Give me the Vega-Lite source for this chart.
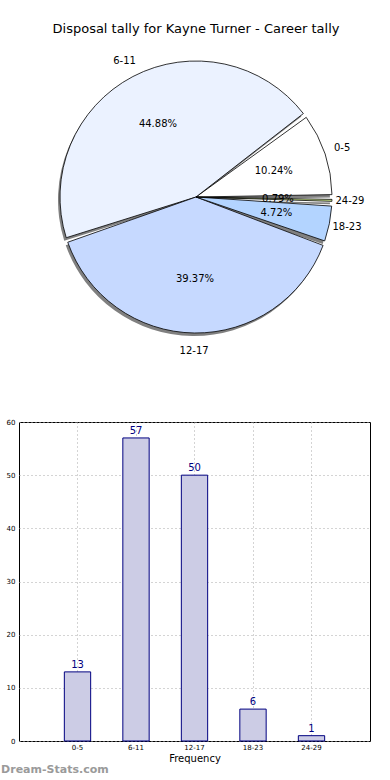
{
  "$schema": "https://vega.github.io/schema/vega-lite/v6.json",
  "padding": {"top": 23, "left": 0, "right": 0, "bottom": 0},
  "spacing": 61,
  "config": {
    "font": "DejaVu Sans",
    "axis": {"domainColor": "black", "tickColor": "black", "labelColor": "black", "titleColor": "black", "titleFontWeight": "normal"}
  },
  "datasets": {
    "d": [
      {"bin": "0-5", "n": 13, "pct": "10.24%", "idx": 0},
      {"bin": "6-11", "n": 57, "pct": "44.88%", "idx": 1},
      {"bin": "12-17", "n": 50, "pct": "39.37%", "idx": 2},
      {"bin": "18-23", "n": 6, "pct": "4.72%", "idx": 3},
      {"bin": "24-29", "n": 1, "pct": "0.79%", "idx": 4}
    ]
  },
  "vconcat": [
    {
      "width": 354,
      "height": 302,
      "data": {"name": "d"},
      "view": {"stroke": null},
      "title": {"text": "Disposal tally for Kayne Turner - Career tally", "fontSize": 13, "fontWeight": "normal", "font": "DejaVu Sans", "anchor": "middle", "offset": 10},
      "encoding": {
        "theta": {"field": "n", "type": "quantitative", "stack": true, "scale": {"range": [1.5708, 7.854]}},
        "order": {"field": "idx", "type": "quantitative", "sort": "descending"}
      },
      "layer": [
        {"mark": {"type": "arc", "outerRadius": 136, "fill": "#808080", "xOffset": -2, "yOffset": 3, "padAngle": 0.035}},
        {
          "mark": {"type": "arc", "outerRadius": 136, "stroke": "black", "strokeWidth": 0.8, "padAngle": 0.035},
          "encoding": {
            "color": {"field": "bin", "type": "nominal", "legend": null,
              "scale": {"domain": ["0-5", "6-11", "12-17", "18-23", "24-29"], "range": ["#ffffff", "#ebf2ff", "#c6d9ff", "#b3d4ff", "#cce58c"]}}
          }
        },
        {"mark": {"type": "text", "radius": 82, "fontSize": 10, "color": "black"}, "encoding": {"text": {"field": "pct"}}},
        {"mark": {"type": "text", "radius": 154, "fontSize": 10, "color": "black"}, "encoding": {"text": {"field": "bin"}}}
      ]
    },
    {
      "width": 351,
      "height": 319,
      "data": {"name": "d"},
      "view": {"stroke": "black"},
      "title": {"text": "Dream-Stats.com", "orient": "bottom", "anchor": "start", "color": "#9a9a9a", "fontSize": 11, "fontWeight": "bold", "font": "DejaVu Sans", "offset": 1, "dx": -5},
      "encoding": {
        "x": {"field": "bin", "type": "nominal", "sort": ["0-5", "6-11", "12-17", "18-23", "24-29"],
          "scale": {"paddingInner": 0.55, "paddingOuter": 0.775},
          "axis": {"title": "Frequency", "labelAngle": 0, "labelFontSize": 7, "labelPadding": 2, "ticks": false, "titleFontSize": 10, "titlePadding": 3,
            "grid": true, "gridColor": "#a8a8a8", "gridDash": [1, 3], "domain": false}},
        "y": {"field": "n", "type": "quantitative", "scale": {"domain": [0, 60], "nice": false},
          "axis": {"title": null, "values": [0, 10, 20, 30, 40, 50, 60], "labelFontSize": 7, "labelPadding": 4, "ticks": false,
            "grid": true, "gridColor": "#a8a8a8", "gridDash": [1, 3], "domain": false}}
      },
      "layer": [
        {"mark": {"type": "bar", "fill": "#ccccE5", "stroke": "#000080", "strokeWidth": 1}},
        {"mark": {"type": "text", "dy": -7, "fontSize": 10, "color": "#000080"}, "encoding": {"text": {"field": "n", "type": "quantitative"}}}
      ]
    }
  ]
}
